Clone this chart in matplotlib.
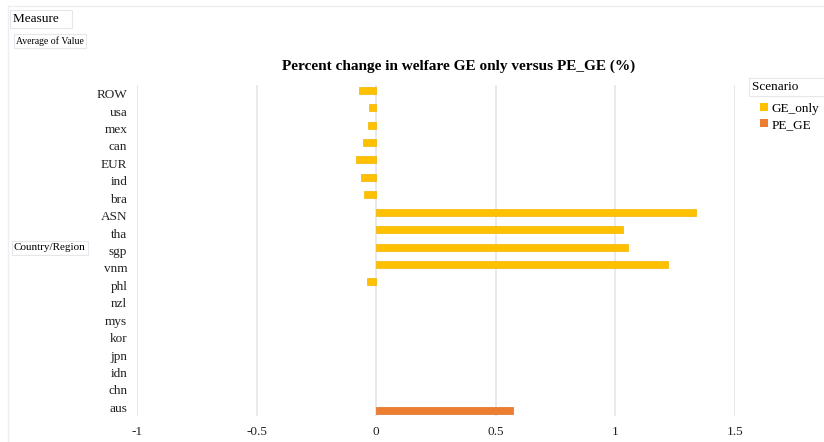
import numpy as np
import matplotlib
matplotlib.use("Agg")
import matplotlib.pyplot as plt
from matplotlib.lines import Line2D
from matplotlib.patches import Patch

plt.rcParams['font.family'] = ['Liberation Serif', 'DejaVu Serif']

# regions from bottom to top
regions = ['aus', 'chn', 'idn', 'jpn', 'kor', 'mys', 'nzl', 'phl', 'vnm', 'sgp',
           'tha', 'ASN', 'bra', 'ind', 'EUR', 'can', 'mex', 'usa', 'ROW']
ge_only = [np.nan, np.nan, np.nan, np.nan, np.nan, np.nan, np.nan, -0.038, 1.22, 1.054,
           1.03, 1.335, -0.05, -0.063, -0.084, -0.054, -0.033, -0.029, -0.071]
pe_ge = [0.57, np.nan, np.nan, np.nan, np.nan, np.nan, np.nan, np.nan, np.nan, np.nan,
         np.nan, np.nan, np.nan, np.nan, np.nan, np.nan, np.nan, np.nan, np.nan]

fig = plt.figure(figsize=(8.24, 4.42), dpi=100)
ax = fig.add_axes([137/824, 1 - 416/442, 598/824, 331/442])

y = np.arange(len(regions))
h = 0.4
ax.barh(y + h/2, ge_only, height=h, color='#FFC000', edgecolor='#F2B400', linewidth=0.5,
        label='GE_only', zorder=3)
ax.barh(y - h/2, pe_ge, height=h, color='#ED7D31', edgecolor='#E06F20', linewidth=0.5,
        label='PE_GE', zorder=3)

ax.set_xlim(-1, 1.5)
ax.set_ylim(-0.5, len(regions) - 0.5)
ax.set_xticks([-1, -0.5, 0, 0.5, 1, 1.5])
ax.set_xticklabels(['-1', '-0.5', '0', '0.5', '1', '1.5'])
ax.set_yticks(y)
ax.set_yticklabels(regions)
ax.tick_params(length=0, labelsize=9.5, colors='#222222')
ax.tick_params(axis='x', pad=7)
ax.tick_params(axis='y', pad=7)
ax.grid(axis='x', color='#E4E4EA', linewidth=1.2, zorder=0)
for s in ax.spines.values():
    s.set_visible(False)

fig.text(459/824, 1 - 66/442, 'Percent change in welfare GE only versus PE_GE (%)',
         ha='center', va='center', fontsize=11, fontweight='bold')

box = dict(boxstyle='square,pad=0.2', facecolor='white', edgecolor='#E6E6EC', linewidth=0.8)
fig.text(13/824, 1 - 19/442, 'Measure   ', ha='left', va='center', fontsize=9.5, bbox=box)
fig.text(16/824, 1 - 41/442, 'Average of Value', ha='left', va='center', fontsize=7, bbox=box)
fig.text(14/824, 1 - 248/442, 'Country/Region', ha='left', va='center', fontsize=8, bbox=box)
fig.text(752/824, 1 - 87/442, 'Scenario       ', ha='left', va='center', fontsize=9.5, bbox=box)

handles = [Patch(facecolor='#FFC000'), Patch(facecolor='#ED7D31')]
fig.legend(handles, ['GE_only', 'PE_GE'], loc='upper left',
           bbox_to_anchor=(752/824, 1 - 95/442), frameon=False, fontsize=9.5,
           handlelength=0.6, handleheight=0.6, handletextpad=0.3, labelspacing=0.3,
           borderpad=0.1)

fig.add_artist(Line2D([8/824, 1], [1 - 6/442, 1 - 6/442], color='#EEEEF2', linewidth=1))
fig.add_artist(Line2D([8/824, 8/824], [0, 1 - 6/442], color='#EEEEF2', linewidth=1))

fig.savefig('out.png', dpi=100)
